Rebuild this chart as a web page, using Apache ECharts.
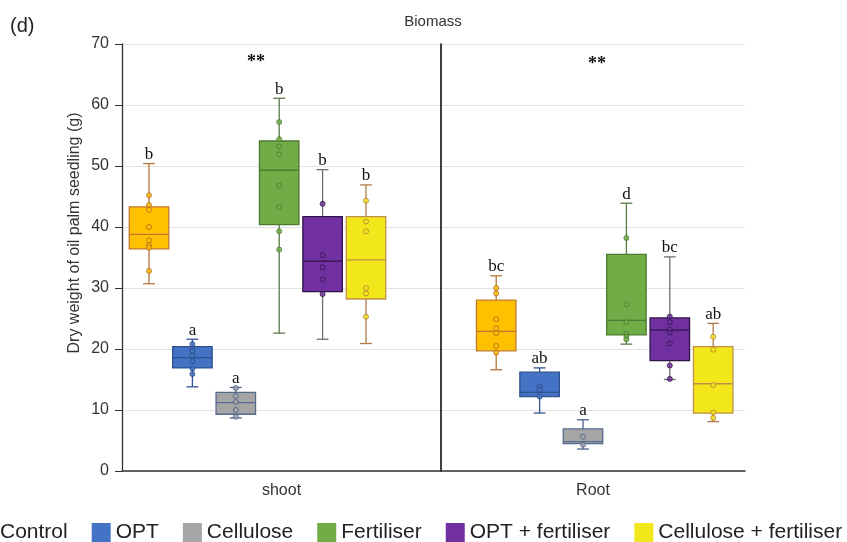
<!DOCTYPE html>
<html>
<head>
<meta charset="utf-8">
<script src="https://cdn.jsdelivr.net/npm/echarts@6/dist/echarts.min.js"></script>
<style>
html,body{margin:0;padding:0;background:#fff;}
#chart{width:847px;height:542px;}
</style>
</head>
<body>
<div id="chart"></div>
<script>
// ---------------- data ----------------
const groups = ['shoot', 'Root'];
const treatments = ['Control', 'OPT', 'Cellulose', 'Fertiliser', 'OPT + fertiliser', 'Cellulose + fertiliser'];
const yTicks = [0, 10, 20, 30, 40, 50, 60, 70];
// box statistics: [min, q1, median, q3, max]
const shootBoxes = [
  [30.7, 36.4, 38.8, 43.3, 50.4],
  [13.8, 16.9, 18.6, 20.4, 21.6],
  [8.7, 9.3, 11.2, 12.9, 13.7],
  [22.6, 40.4, 49.3, 54.1, 61.1],
  [21.6, 29.4, 34.4, 41.7, 49.4],
  [20.9, 28.2, 34.6, 41.7, 46.9]
];
const rootBoxes = [
  [16.6, 19.7, 22.9, 28.0, 32.0],
  [9.5, 12.2, 12.9, 16.2, 16.9],
  [3.6, 4.5, 4.8, 6.9, 8.4],
  [20.8, 22.3, 24.7, 35.5, 43.9],
  [15.0, 18.1, 23.1, 25.1, 35.1],
  [8.1, 9.5, 14.3, 20.4, 24.2]
];
const shootLetters = ['b', 'a', 'a', 'b', 'b', 'b'];
const rootLetters = ['bc', 'ab', 'a', 'd', 'bc', 'ab'];
const shootPoints = [
  [45.2, 43.6, 42.8, 40.0, 37.8, 37.0, 36.6, 32.8],
  [20.8, 19.7, 18.9, 18.0, 16.8, 15.9],
  [13.6, 12.3, 11.3, 10.0, 8.9],
  [57.2, 54.4, 53.2, 51.9, 46.8, 43.3, 39.3, 36.3],
  [43.8, 35.4, 33.4, 31.4, 29.0],
  [44.3, 40.9, 39.3, 30.0, 29.1, 25.3]
];
const rootPoints = [
  [30.0, 29.1, 24.9, 23.4, 22.6, 20.5, 19.4],
  [13.8, 13.3, 12.2],
  [5.6, 4.3],
  [38.2, 27.3, 24.4, 22.5, 22.0, 21.6],
  [25.3, 24.4, 23.2, 22.7, 20.9, 17.3, 15.1],
  [22.0, 19.9, 14.1, 9.6, 8.7]
];
const significance = ['**', '**'];

// ---------------- styles ----------------
const fills   = ['#FFC000', '#4472C4', '#A5A5A5', '#70AD47', '#7030A0', '#F2E71B'];
const strokes = ['#C07A2E', '#2F528F', '#566A8E', '#4E7A33', '#2E1548', '#C0904A'];
const whisk   = ['#B5763C', '#2F528F', '#4A5F8A', '#5A7A48', '#6E6E6E', '#B07A4A'];
const ptStroke= ['#B06A20', '#2A4A85', '#4A5F8A', '#4E7A33', '#2E1548', '#B08030'];

// hidden slot axis: 6 shoot slots, 2 spacer slots, 6 root slots
const slotCats = [].concat(
  treatments.map(t => groups[0] + '|' + t),
  ['gap-1', 'gap-2'],
  treatments.map(t => groups[1] + '|' + t)
);

const chart = echarts.init(document.getElementById('chart'));

const series = [];
treatments.forEach((t, i) => {
  const data = [
    [groups[0] + '|' + t].concat(shootBoxes[i]),
    [groups[1] + '|' + t].concat(rootBoxes[i])
  ];
  const letters = [shootLetters[i], rootLetters[i]];
  series.push({
    name: t,
    type: 'custom',
    xAxisIndex: 2,
    yAxisIndex: 2,
    z: 3,
    itemStyle: { color: fills[i] },
    encode: { x: 0, y: [1, 2, 3, 4, 5] },
    data: data,
    renderItem: function (params, api) {
      const xi = api.value(0);
      const pMin = api.coord([xi, api.value(1)]);
      const pQ1 = api.coord([xi, api.value(2)]);
      const pMed = api.coord([xi, api.value(3)]);
      const pQ3 = api.coord([xi, api.value(4)]);
      const pMax = api.coord([xi, api.value(5)]);
      const band = api.size([1, 0])[0];
      const w = band * 0.91;
      const cap = w * 0.3;
      const cx = pMed[0];
      const ls = { stroke: whisk[i], lineWidth: 1.3 };
      return {
        type: 'group',
        children: [
          { type: 'line', shape: { x1: cx, y1: pMax[1], x2: cx, y2: pQ3[1] }, style: ls },
          { type: 'line', shape: { x1: cx, y1: pQ1[1], x2: cx, y2: pMin[1] }, style: ls },
          { type: 'line', shape: { x1: cx - cap / 2, y1: pMax[1], x2: cx + cap / 2, y2: pMax[1] }, style: ls },
          { type: 'line', shape: { x1: cx - cap / 2, y1: pMin[1], x2: cx + cap / 2, y2: pMin[1] }, style: ls },
          { type: 'rect', shape: { x: cx - w / 2, y: pQ3[1], width: w, height: pQ1[1] - pQ3[1] },
            style: { fill: fills[i], stroke: strokes[i], lineWidth: 1.3 } },
          { type: 'line', shape: { x1: cx - w / 2, y1: pMed[1], x2: cx + w / 2, y2: pMed[1] },
            style: { stroke: strokes[i], lineWidth: 1.3 } },
          { type: 'text', x: cx, y: pMax[1] - 9,
            style: { text: letters[params.dataIndex], align: 'center', verticalAlign: 'middle',
                     fontSize: 17, fontFamily: 'Liberation Serif', fill: '#111' } }
        ]
      };
    }
  });
});
treatments.forEach((t, i) => {
  const pts = [];
  shootPoints[i].forEach(v => pts.push([groups[0] + '|' + t, v]));
  rootPoints[i].forEach(v => pts.push([groups[1] + '|' + t, v]));
  series.push({
    name: t,
    type: 'scatter',
    xAxisIndex: 2,
    yAxisIndex: 2,
    z: 4,
    symbol: 'circle',
    symbolSize: 5,
    itemStyle: { color: fills[i], borderColor: ptStroke[i], borderWidth: 1 },
    emphasis: { disabled: true },
    data: pts
  });
});

const yCommon = {
  type: 'value', min: yTicks[0], max: yTicks[yTicks.length - 1], interval: 10
};

const option = {
  backgroundColor: '#ffffff',
  animation: false,
  textStyle: { fontFamily: 'Liberation Sans' },
  grid: [
    { left: 122, top: 44, width: 319, height: 427 },
    { left: 441, top: 44, width: 304, height: 427 },
    { left: 127.3, top: 44, width: 607.6, height: 427 }
  ],
  xAxis: [
    { type: 'category', gridIndex: 0, data: [groups[0]],
      axisLine: { lineStyle: { color: '#333', width: 1.5 } }, axisTick: { show: false },
      axisLabel: { fontSize: 16, color: '#333', margin: 12 } },
    { type: 'category', gridIndex: 1, data: [groups[1]],
      axisLine: { lineStyle: { color: '#333', width: 1.5 } }, axisTick: { show: false },
      axisLabel: { fontSize: 16, color: '#333', margin: 12 } },
    { type: 'category', gridIndex: 2, data: slotCats, show: false }
  ],
  yAxis: [
    Object.assign({}, yCommon, {
      gridIndex: 0,
      name: 'Dry weight of oil palm seedling (g)',
      nameLocation: 'middle', nameGap: 39,
      nameTextStyle: { fontSize: 16, color: '#333', padding: [0, 0, 0, 49] },
      axisLine: { show: true, lineStyle: { color: '#333', width: 1.3 } },
      axisTick: { show: true, length: 7, lineStyle: { color: '#333' } },
      axisLabel: { fontSize: 16, color: '#333', margin: 13 },
      splitLine: { lineStyle: { color: '#E2E2E2', width: 1 } }
    }),
    Object.assign({}, yCommon, {
      gridIndex: 1,
      axisLine: { show: true, lineStyle: { color: '#000', width: 1.5 } },
      axisTick: { show: false }, axisLabel: { show: false },
      splitLine: { lineStyle: { color: '#E2E2E2', width: 1 } }
    }),
    Object.assign({}, yCommon, { gridIndex: 2, show: false, splitLine: { show: false } })
  ],
  legend: {
    left: -24, top: 522, width: 900, padding: 0,
    itemWidth: 19, itemHeight: 19, itemGap: 24,
    textStyle: { fontSize: 21, color: '#222', fontFamily: 'Liberation Sans' },
    data: treatments.map((t, i) => ({ name: t, icon: 'rect', itemStyle: { color: fills[i], borderWidth: 0 } }))
  },
  graphic: [
    { type: 'text', x: 10, y: 26, style: { text: '(d)', fontSize: 20, fontFamily: 'Liberation Sans', fill: '#222', align: 'left', verticalAlign: 'middle' } },
    { type: 'text', x: 433, y: 22, style: { text: 'Biomass', fontSize: 15, fontFamily: 'Liberation Sans', fill: '#333', align: 'center', verticalAlign: 'middle' } },
    { type: 'text', x: 256, y: 62, style: { text: significance[0], fontSize: 18, fontWeight: 'bold', fontFamily: 'Liberation Serif', fill: '#111', align: 'center', verticalAlign: 'middle' } },
    { type: 'text', x: 597, y: 64, style: { text: significance[1], fontSize: 18, fontWeight: 'bold', fontFamily: 'Liberation Serif', fill: '#111', align: 'center', verticalAlign: 'middle' } }
  ],
  series: series
};
chart.setOption(option);
</script>
</body>
</html>
